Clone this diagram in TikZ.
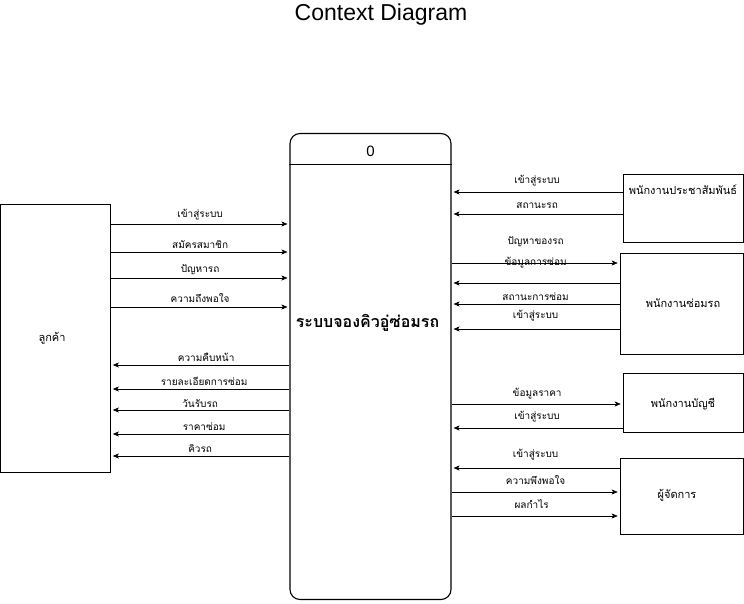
\documentclass[tikz,border=0pt]{standalone}
\usepackage{fontspec}
\setmainfont{Liberation Sans}
\newfontfamily\thaifont[Script=Thai]{Loma}
\usetikzlibrary{arrows.meta, positioning}

\begin{document}
\begin{tikzpicture}[x=1pt, y=-1pt,
		entity/.style={draw, line width=0.6pt, inner sep=0pt},
		flow/.style={draw, line width=0.6pt, -{Stealth[length=6pt, width=5pt, inset=1.5pt]}, shorten >=2pt},
		lbl/.style={font=\thaifont\fontsize{10}{12}\selectfont, inner sep=0pt},
		boxtext/.style={font=\thaifont\fontsize{11}{13}\selectfont, inner sep=0pt}]
			\useasboundingbox (0,0) rectangle (744,604);
			\node[font=\fontsize{23}{26}\selectfont] (title) at (381,15) {Context Diagram};

			% process
			\node[entity, line width=1.1pt, rounded corners=10pt, minimum width=161pt, minimum height=466pt] (sys) at (370.5,366.5) {};
			\draw[line width=0.8pt] (sys.west |- 0,164) -- (sys.east |- 0,164);
			\node[font=\fontsize{15}{17}\selectfont] (num) at (370.5,151) {0};
			\node[font=\thaifont\bfseries\fontsize{16}{18}\selectfont] (systext) at (367.5,323) {ระบบจองคิวอู่ซ่อมรถ};

			% external entities
			\node[entity, minimum width=110pt, minimum height=268pt] (cust) at (55.5,338) {};
			\node[boxtext] (custtext) at (52,338) {ลูกค้า};
			\node[entity, minimum width=120pt, minimum height=68pt] (pr) at (683,208) {};
			\node[boxtext] (prtext) at (683,190) {พนักงานประชาสัมพันธ์};
			\node[entity, minimum width=123pt, minimum height=101pt] (rep) at (681.5,303.5) {};
			\node[boxtext] (reptext) at (683,303) {พนักงานซ่อมรถ};
			\node[entity, minimum width=120pt, minimum height=59pt] (acc) at (683,402.5) {};
			\node[boxtext] (acctext) at (683,404) {พนักงานบัญชี};
			\node[entity, minimum width=123pt, minimum height=76pt] (mgr) at (681.5,496) {};
			\node[boxtext] (mgrtext) at (677,495) {ผู้จัดการ};

			% customer flows
			\draw[flow] (cust.east |- 0,224) -- node[lbl, above=4pt] {เข้าสู่ระบบ} (sys.west |- 0,224);
			\draw[flow] (cust.east |- 0,252) -- node[lbl, above=3pt] {สมัครสมาชิก} (sys.west |- 0,252);
			\draw[flow] (cust.east |- 0,278) -- node[lbl, above=3pt] {ปัญหารถ} (sys.west |- 0,278);
			\draw[flow] (cust.east |- 0,307) -- node[lbl, above=4pt] {ความถึงพอใจ} (sys.west |- 0,307);
			\draw[flow] (sys.west |- 0,365) -- node[lbl, above=3pt, xshift=6pt] {ความคืบหน้า} (cust.east |- 0,365);
			\draw[flow] (sys.west |- 0,389) -- node[lbl, above=3pt, xshift=4pt] {รายละเอียดการซ่อม} (cust.east |- 0,389);
			\draw[flow] (sys.west |- 0,410) -- node[lbl, above=2pt] {วันรับรถ} (cust.east |- 0,410);
			\draw[flow] (sys.west |- 0,434) -- node[lbl, above=3pt, xshift=4pt] {ราคาซ่อม} (cust.east |- 0,434);
			\draw[flow] (sys.west |- 0,456) -- node[lbl, above=3pt] {คิวรถ} (cust.east |- 0,456);

			% staff flows
			\draw[flow] (pr.west |- 0,192) -- node[lbl, above=6pt] {เข้าสู่ระบบ} (sys.east |- 0,192);
			\draw[flow] (pr.west |- 0,214) -- node[lbl, above=5pt] {สถานะรถ} (sys.east |- 0,214);
			\draw[flow] (sys.east |- 0,263) -- node[lbl, above=16pt] {ปัญหาของรถ} node[lbl] {ข้อมูลการซ่อม} (rep.west |- 0,263);
			\draw[flow] (rep.west |- 0,283) -- (sys.east |- 0,283);
			\draw[flow] (rep.west |- 0,304) -- node[lbl, above=3pt] {สถานะการซ่อม} (sys.east |- 0,304);
			\draw[flow] (rep.west |- 0,329) -- node[lbl, above=8pt] {เข้าสู่ระบบ} (sys.east |- 0,329);
			\draw[flow] (sys.east |- 0,404) -- node[lbl, above=5pt] {ข้อมูลราคา} (acc.west |- 0,404);
			\draw[flow] (acc.west |- 0,428) -- node[lbl, above=6pt] {เข้าสู่ระบบ} (sys.east |- 0,428);
			\draw[flow] (mgr.west |- 0,468) -- node[lbl, above=8pt] {เข้าสู่ระบบ} (sys.east |- 0,468);
			\draw[flow] (sys.east |- 0,492) -- node[lbl, above=7pt] {ความพึงพอใจ} (mgr.west |- 0,492);
			\draw[flow] (sys.east |- 0,516) -- node[lbl, above=7pt, xshift=-4pt] {ผลกำไร} (mgr.west |- 0,516);
		\end{tikzpicture}
\end{document}
